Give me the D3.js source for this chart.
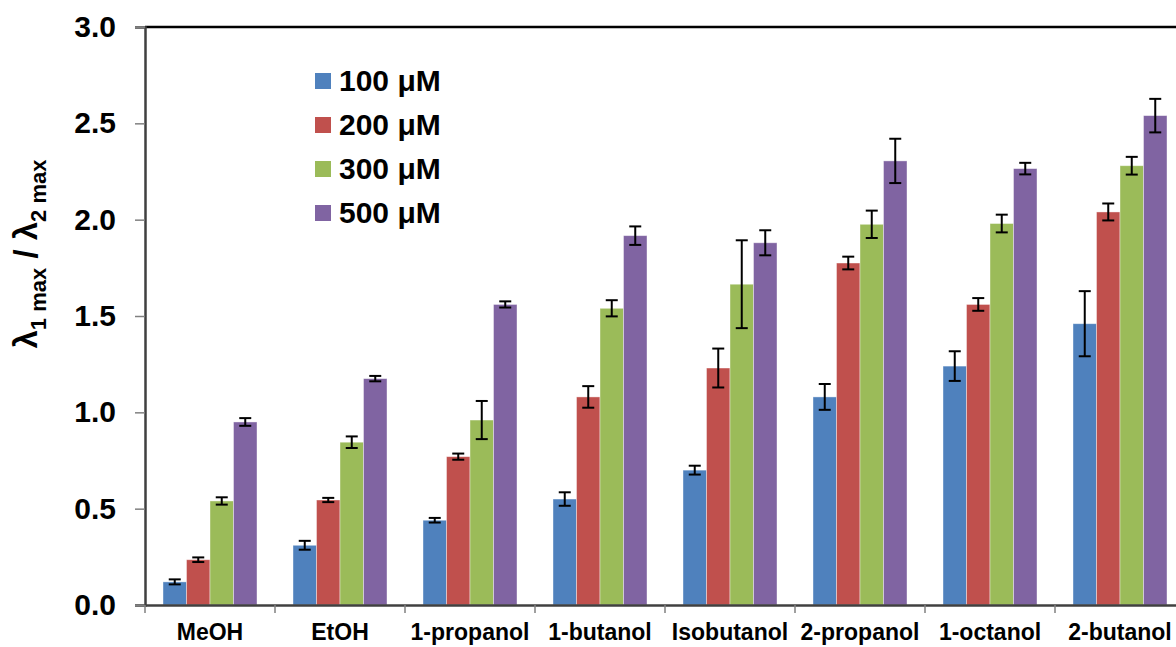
<!DOCTYPE html>
<html>
<head>
<meta charset="utf-8">
<script src="https://cdn.jsdelivr.net/npm/d3@7"></script>
<style>
  body { margin: 0; background: #fff; }
  svg { display: block; font-family: "Liberation Sans", Arial, sans-serif; font-weight: bold; }
</style>
</head>
<body>
<svg id="chart" width="1176" height="647"></svg>
<script>
var categories = ["MeOH", "EtOH", "1-propanol", "1-butanol", "Isobutanol", "2-propanol", "1-octanol", "2-butanol"]
var seriesNames = ["100 μM", "200 μM", "300 μM", "500 μM"]
var seriesColors = ["#4F81BD", "#C0504D", "#9BBB59", "#8064A2"]

var v100 = [0.12, 0.31, 0.44, 0.55, 0.70, 1.08, 1.24, 1.46]
var e100 = [0.013, 0.023, 0.012, 0.035, 0.023, 0.067, 0.077, 0.169]
var v200 = [0.235, 0.545, 0.77, 1.08, 1.23, 1.775, 1.56, 2.04]
var e200 = [0.012, 0.011, 0.016, 0.056, 0.101, 0.033, 0.033, 0.044]
var v300 = [0.54, 0.845, 0.96, 1.54, 1.665, 1.976, 1.98, 2.28]
var e300 = [0.019, 0.03, 0.099, 0.042, 0.228, 0.071, 0.046, 0.046]
var v500 = [0.95, 1.175, 1.56, 1.917, 1.88, 2.305, 2.265, 2.54]
var e500 = [0.02, 0.014, 0.016, 0.048, 0.065, 0.115, 0.03, 0.087]

var yTicks = [0, 0.5, 1.0, 1.5, 2.0, 2.5, 3.0]

var values = [v100, v200, v300, v500]
var errors = [e100, e200, e300, e500]

var svg = d3.select("#chart")
var plotLeft = 145, plotRight = 1185, plotTop = 27, plotBottom = 605

var x = d3.scaleBand().domain(categories).range([plotLeft, plotRight])
var xs = d3.scaleBand().domain(d3.range(4)).range([18, 112])
var y = d3.scaleLinear().domain([0, 3]).range([plotBottom, plotTop])

// flatten bars
var bars = []
categories.forEach(function(c, i) {
    values.forEach(function(vals, s) {
        bars.push({cat: c, s: s, v: vals[i], e: errors[s][i]})
    })
})

var g = svg.append("g")

g.selectAll("rect.bar")
    .data(bars)
    .enter().append("rect")
    .attr("class", "bar")
    .attr("x", function(d) { return x(d.cat) + xs(d.s) })
    .attr("width", xs.bandwidth())
    .attr("y", function(d) { return y(d.v) })
    .attr("height", function(d) { return y(0) - y(d.v) })
    .attr("fill", function(d) { return seriesColors[d.s] })
    .attr("stroke", "#ffffff")
    .attr("stroke-opacity", 0.5)
    .attr("stroke-width", 0.8)

// error bars
var err = g.selectAll("g.err")
    .data(bars)
    .enter().append("g")
    .attr("class", "err")
    .attr("stroke", "#000")
    .attr("stroke-width", 2)
var cx = function(d) { return x(d.cat) + xs(d.s) + xs.bandwidth() / 2 }
err.append("line")
    .attr("x1", cx).attr("x2", cx)
    .attr("y1", function(d) { return y(d.v + d.e) })
    .attr("y2", function(d) { return y(d.v - d.e) })
err.append("line")
    .attr("x1", function(d) { return cx(d) - 6 }).attr("x2", function(d) { return cx(d) + 6 })
    .attr("y1", function(d) { return y(d.v + d.e) })
    .attr("y2", function(d) { return y(d.v + d.e) })
err.append("line")
    .attr("x1", function(d) { return cx(d) - 6 }).attr("x2", function(d) { return cx(d) + 6 })
    .attr("y1", function(d) { return y(d.v - d.e) })
    .attr("y2", function(d) { return y(d.v - d.e) })

// top frame
svg.append("line")
    .attr("x1", plotLeft).attr("x2", plotRight)
    .attr("y1", plotTop).attr("y2", plotTop)
    .attr("stroke", "#000").attr("stroke-width", 2.5)

// y axis
var yAxis = svg.append("g")
    .attr("transform", "translate(" + plotLeft + ",0)")
    .call(d3.axisLeft(y).tickValues(yTicks).tickFormat(d3.format(".1f")).tickSize(10).tickPadding(19))
yAxis.select(".domain").attr("stroke", "#404040").attr("stroke-width", 2.5)
yAxis.selectAll(".tick line").attr("stroke", "#808080").attr("stroke-width", 1.5)
yAxis.selectAll(".tick text")
    .attr("font-size", 30).attr("font-weight", "bold").attr("fill", "#000")
    .attr("font-family", "Liberation Sans, Arial, sans-serif")

// x axis
var xAxis = svg.append("g")
    .attr("transform", "translate(0," + plotBottom + ")")
    .call(d3.axisBottom(x).tickSize(0).tickPadding(19))
xAxis.select(".domain").attr("stroke", "#404040").attr("stroke-width", 2.5)
xAxis.selectAll(".tick text")
    .attr("font-size", 23).attr("font-weight", "bold").attr("fill", "#000")
    .attr("font-family", "Liberation Sans, Arial, sans-serif")
xAxis.selectAll("line.boundary")
    .data(categories.map(function(c) { return x(c) }).concat([plotRight]))
    .enter().append("line")
    .attr("class", "boundary")
    .attr("x1", function(d) { return d }).attr("x2", function(d) { return d })
    .attr("y1", 0).attr("y2", 8)
    .attr("stroke", "#808080").attr("stroke-width", 1.5)

// y label
var yl = svg.append("text")
    .attr("transform", "translate(37,254) rotate(-90)")
    .attr("text-anchor", "middle")
    .attr("font-size", 33)
    .attr("fill", "#000")
yl.append("tspan").text("λ")
yl.append("tspan").attr("font-size", 22).attr("dy", 9).text("1 max")
yl.append("tspan").attr("dy", -9).text(" / λ")
yl.append("tspan").attr("font-size", 22).attr("dy", 9).text("2 max")

// legend
var legend = svg.append("g").attr("transform", "translate(315,73)")
var item = legend.selectAll("g")
    .data(seriesNames)
    .enter().append("g")
    .attr("transform", function(d, i) { return "translate(0," + i * 44 + ")" })
item.append("rect")
    .attr("width", 16).attr("height", 16)
    .attr("fill", function(d, i) { return seriesColors[i] })
item.append("text")
    .attr("x", 24).attr("y", 18)
    .attr("font-size", 30)
    .attr("fill", "#000")
    .text(function(d) { return d })
</script>
</body>
</html>
